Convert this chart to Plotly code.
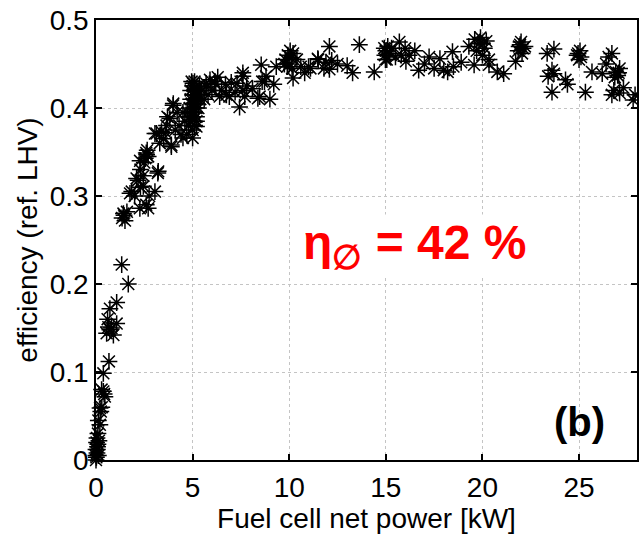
import plotly.graph_objects as go

power_kw = [
    0.0, 0.02, 0.05, 0.0, 0.08, 0.03, 0.1, 0.05, 0.12, 0.0, 0.07, 0.15, 0.1, 0.2, 0.12, 0.25, 0.3,
    0.21, 0.38, 0.46, 0.29, 0.42, 0.38, 0.67, 0.55, 0.64, 0.72, 0.9, 0.8, 1.07, 0.72, 1.07, 0.6, 1.33, 1.67,
    1.35, 1.45, 1.5, 1.42, 1.6, 1.85, 1.76, 2.0, 2.27, 2.3, 2.6, 2.7, 2.75, 2.45, 3.05, 2.1, 2.18, 2.45, 2.3,
    3.22, 3.2, 2.55, 2.62, 2.6, 2.7, 2.28, 2.65, 2.5,
    3.05, 3.13, 3.39, 3.65, 3.82, 3.99, 4.0, 3.9, 3.9, 4.4, 4.5, 4.7, 3.5, 3.7, 4.2, 4.3, 4.1, 3.3, 3.6, 4.6, 4.5,
    4.8, 4.9, 5.0, 5.1, 4.85, 4.95, 5.05, 5.15, 4.9, 5.0, 5.1, 5.2, 5.25, 5.3, 5.2, 5.1, 5.0, 4.95, 5.05, 4.9,
    5.15, 5.2, 5.3, 5.35, 4.85, 5.0, 5.1, 5.2, 4.95, 5.02, 5.2, 5.0, 4.75, 5.4, 5.45,
    5.7, 5.7, 6.2, 6.14, 6.7, 6.4, 6.9, 6.75, 7.0, 7.43, 7.6, 7.6, 7.8, 8.1, 7.7, 7.6, 8.47, 8.38, 8.55, 8.6,
    8.72, 8.8, 9.33, 9.2, 9.0, 5.8, 6.0, 6.5, 7.2, 7.3, 5.6, 5.9, 6.3,
    9.93, 9.8, 10.0, 10.1, 9.9, 10.2, 10.05, 9.75, 10.15, 10.2, 10.6, 11.0, 11.1, 11.48, 11.5, 11.8, 11.9,
    12.08, 12.08, 12.2, 10.8, 10.4, 12.5, 13.0,
    13.63, 13.28, 14.4, 14.92, 15.0, 15.1, 14.95, 15.2, 15.05, 14.98, 15.3, 15.7, 16.04, 16.7, 16.5, 17.24,
    17.8, 18.2, 18.45, 15.5, 16.2, 17.0, 17.5, 16.0, 15.8, 18.0, 18.5, 18.9,
    19.3, 19.57, 19.82, 19.7, 19.9, 20.0, 20.1, 20.2, 19.6, 20.0, 20.34, 20.34, 20.77, 21.1, 21.72, 21.9,
    21.85, 22.0, 22.1, 21.95, 22.05, 22.2,
    23.35, 23.7, 23.6, 23.4, 23.7, 23.6, 24.3, 24.4, 25.33, 24.9, 25.0, 25.05, 24.95, 25.1, 25.67, 26.2,
    26.53, 26.7, 26.4, 26.9, 27.0, 27.1, 26.85, 27.05, 26.7, 27.1, 27.3, 27.8, 27.9, 26.8,
]

efficiency = [
    0.0, 0.003, 0.008, 0.012, 0.015, 0.02, 0.018, 0.025, 0.005, 0.005, 0.012, 0.022, 0.03, 0.04, 0.045, 0.055, 0.06,
    0.059, 0.078, 0.072, 0.08, 0.075, 0.0985, 0.112, 0.144, 0.151, 0.148, 0.142, 0.15, 0.155, 0.172, 0.179, 0.16, 0.222, 0.20,
    0.275, 0.278, 0.272, 0.28, 0.282, 0.305, 0.303, 0.3, 0.286, 0.31, 0.29, 0.286, 0.3, 0.311, 0.305, 0.32, 0.318, 0.323, 0.33,
    0.328, 0.326, 0.343, 0.347, 0.349, 0.345, 0.34, 0.352, 0.338,
    0.371, 0.371, 0.373, 0.38, 0.388, 0.403, 0.405, 0.358, 0.356, 0.37, 0.366, 0.37, 0.365, 0.39, 0.395, 0.38, 0.375, 0.36, 0.372, 0.385, 0.395,
    0.38, 0.385, 0.39, 0.395, 0.40, 0.405, 0.41, 0.415, 0.42, 0.425, 0.43, 0.42, 0.41, 0.40, 0.39, 0.38, 0.375, 0.395, 0.4, 0.41,
    0.405, 0.385, 0.415, 0.425, 0.39, 0.415, 0.42, 0.4, 0.43, 0.428, 0.379, 0.366, 0.395, 0.41, 0.42,
    0.424, 0.428, 0.427, 0.43, 0.427, 0.413, 0.413, 0.415, 0.429, 0.401, 0.436, 0.44, 0.425, 0.422, 0.413, 0.42, 0.413, 0.411, 0.449, 0.43,
    0.43, 0.436, 0.447, 0.427, 0.41, 0.415, 0.42, 0.42, 0.418, 0.428, 0.41, 0.432, 0.435,
    0.46, 0.455, 0.45, 0.457, 0.447, 0.462, 0.465, 0.45, 0.445, 0.434, 0.447, 0.447, 0.445, 0.456, 0.455, 0.445, 0.452,
    0.47, 0.444, 0.454, 0.44, 0.455, 0.45, 0.448,
    0.472, 0.44, 0.441, 0.468, 0.465, 0.47, 0.46, 0.462, 0.455, 0.455, 0.468, 0.475, 0.453, 0.443, 0.465, 0.458,
    0.456, 0.441, 0.464, 0.458, 0.46, 0.45, 0.445, 0.468, 0.46, 0.443, 0.447, 0.452,
    0.47, 0.449, 0.473, 0.465, 0.48, 0.473, 0.468, 0.476, 0.478, 0.46, 0.449, 0.455, 0.441, 0.439, 0.453, 0.47,
    0.465, 0.475, 0.468, 0.472, 0.462, 0.47,
    0.462, 0.467, 0.443, 0.436, 0.439, 0.418, 0.432, 0.427, 0.418, 0.46, 0.455, 0.465, 0.462, 0.458, 0.441, 0.439,
    0.458, 0.462, 0.45, 0.441, 0.437, 0.445, 0.435, 0.44, 0.415, 0.417, 0.423, 0.409, 0.415, 0.42,
]

x_ticks = [0, 5, 10, 15, 20, 25]
y_ticks = [0, 0.1, 0.2, 0.3, 0.4, 0.5]
y_tick_labels = ["0", "0.1", "0.2", "0.3", "0.4", "0.5"]

FONT = "Liberation Sans, Arial, sans-serif"

fig = go.Figure()
fig.add_trace(go.Scatter(
    x=power_kw, y=efficiency, mode="markers",
    marker=dict(symbol="asterisk-open", size=14, color="black",
                line=dict(color="black", width=1.5)),
    showlegend=False, cliponaxis=False,
))

axis_common = dict(
    showline=True, linecolor="black", linewidth=1.5, mirror="ticks",
    ticks="inside", ticklen=6, tickwidth=1.5, tickcolor="black",
    showgrid=True, gridcolor="#c4c4c4", griddash="dot", gridwidth=1,
    zeroline=False, automargin=False,
    tickfont=dict(family=FONT, size=28, color="black"),
)

fig.update_xaxes(range=[0, 28], tickvals=x_ticks, ticktext=[str(v) for v in x_ticks],
                 ticklabelstandoff=2,
                 title=dict(text="Fuel cell net power [kW]", font=dict(family=FONT, size=28, color="black"),
                            standoff=5),
                 **axis_common)
fig.update_yaxes(range=[0, 0.5], tickvals=y_ticks, ticktext=y_tick_labels,
                 title=dict(text="efficiency (ref. LHV)", font=dict(family=FONT, size=28, color="black"),
                            standoff=4),
                 **axis_common)

fig.add_annotation(x=16.5, y=0.243, xref="x", yref="y", showarrow=False,
                   text="η<sub>∅</sub> = 42 %", bgcolor="white",
                   font=dict(family=FONT, size=48, color="#ff0000", weight="bold"))
fig.add_annotation(x=25.0, y=0.043, xref="x", yref="y", showarrow=False,
                   text="(b)",
                   font=dict(family=FONT, size=40, color="black", weight="bold"))

fig.update_layout(
    width=639, height=541,
    margin=dict(l=96, r=2, t=20, b=81),
    paper_bgcolor="white", plot_bgcolor="white",
    font=dict(family=FONT, color="black"),
)

# remove the browser's default body margin so the figure sits at the window's corner
fig.write_html("out.html", post_script="document.body.style.margin='0';",
               config={"displayModeBar": False})
